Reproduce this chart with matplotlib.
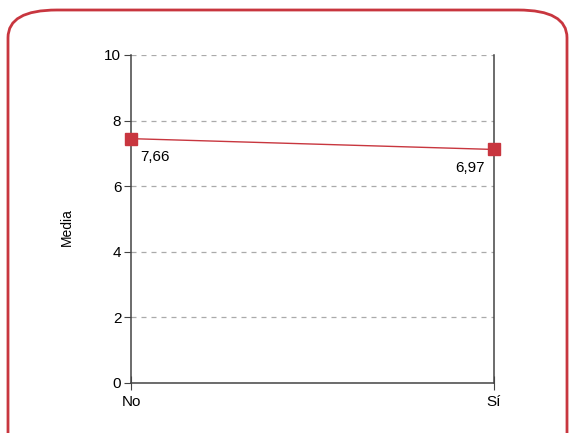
import matplotlib.pyplot as plt
from matplotlib.patches import FancyBboxPatch

plt.rcParams['font.family'] = ['Liberation Sans', 'DejaVu Sans']

categories = ["No", "Sí"]
# positions as drawn in the picture; labels as printed
means = [7.45, 7.12]
labels = ["7,66", "6,97"]
yticks = [0, 2, 4, 6, 8, 10]

RED = "#c8363f"

fig = plt.figure(figsize=(5.75, 4.33), dpi=100)
ax = fig.add_axes([131 / 575, 1 - 383 / 433, (494 - 131) / 575, (383 - 55) / 433])

# cadre arrondi
box = FancyBboxPatch((8 / 575, -0.2), (567 - 8) / 575, 1.2 - 10 / 433,
                     boxstyle="round,pad=0,rounding_size=0.085",
                     transform=fig.transFigure, fill=False,
                     edgecolor=RED, linewidth=2, mutation_aspect=433 / 575,
                     clip_on=False)
fig.patches.append(box)

x = list(range(len(categories)))
ax.plot(x, means, color=RED, linewidth=1, marker="s", markersize=9,
        clip_on=False, zorder=4)
ax.annotate(labels[0], (x[0], means[0]), xytext=(7, -8),
            textcoords="offset points", ha="left", va="top", fontsize=11)
ax.annotate(labels[1], (x[1], means[1]), xytext=(-7, -8),
            textcoords="offset points", ha="right", va="top", fontsize=11)

ax.set_xlim(0, 1)
ax.set_ylim(0, 10)
ax.set_xticks(x)
ax.set_xticklabels(categories, fontsize=11)
ax.set_yticks(yticks)
ax.set_yticklabels([str(v) for v in yticks], fontsize=11)
ax.set_ylabel("Media", fontsize=10, labelpad=22, y=0.475)

ax.grid(axis="y", color="#aaaaaa", linestyle=(0, (4, 4)), linewidth=0.9)
ax.set_axisbelow(True)
ax.spines["top"].set_visible(False)
for s in ["left", "right", "bottom"]:
    ax.spines[s].set_color("#444444")
    ax.spines[s].set_linewidth(1.1)
ax.tick_params(axis="y", direction="out", length=5, color="#444444", pad=2)
ax.tick_params(axis="x", direction="inout", length=10, color="#444444", pad=4)

fig.savefig("out.png", dpi=100)
